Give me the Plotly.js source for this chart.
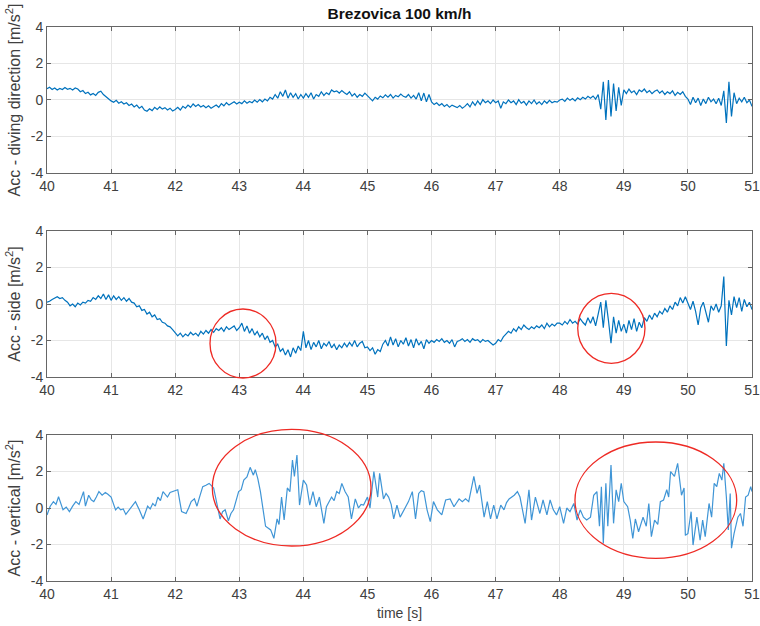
<!DOCTYPE html>
<html><head><meta charset="utf-8">
<script src="https://cdn.plot.ly/plotly-3.0.1.min.js"></script>
<style>html,body{margin:0;padding:0;background:#fff}</style>
</head><body><div id="chart" style="width:760px;height:626px"></div>
<script>
// sampling of panels 1 and 2
const tStart = 40, tStep = 0.04;

const accDiving = [
 0.62,0.70,0.58,0.66,0.55,0.63,0.57,0.68,0.59,0.64,0.55,0.66,0.60,0.45,0.52,0.35,0.42,0.28,0.36,0.25,0.42,0.48,0.30,0.18,0.05,
 -0.05,-0.12,-0.02,-0.18,-0.10,-0.22,-0.15,-0.30,-0.22,-0.38,-0.28,-0.45,-0.35,-0.55,-0.62,-0.48,-0.58,-0.40,-0.52,-0.38,-0.50,-0.42,-0.55,-0.45,-0.60,
 -0.52,-0.40,-0.55,-0.35,-0.45,-0.28,-0.40,-0.22,-0.35,-0.25,-0.38,-0.30,-0.42,-0.32,-0.45,-0.35,-0.28,-0.40,-0.20,-0.32,-0.15,-0.28,-0.18,-0.10,-0.22,
 -0.12,-0.20,-0.05,-0.18,-0.08,-0.15,0.00,-0.12,0.02,-0.10,0.05,-0.05,0.15,0.05,0.30,0.10,0.45,0.20,0.55,0.10,0.40,0.15,0.35,0.05,0.30,
 0.10,0.35,0.15,0.40,0.05,0.30,0.20,0.45,0.25,0.40,0.30,0.55,0.45,0.50,0.38,0.52,0.40,0.30,0.45,0.22,0.35,0.15,0.30,0.20,0.38,
 0.25,0.10,-0.05,0.15,0.05,0.22,0.12,0.28,0.15,0.30,0.10,0.25,0.18,0.32,0.20,0.15,0.30,0.10,0.25,0.05,0.40,-0.05,0.38,-0.10,0.30,
 -0.10,-0.25,-0.15,-0.30,-0.20,-0.35,-0.25,-0.40,-0.28,-0.35,-0.42,-0.30,-0.45,-0.35,-0.20,-0.38,-0.10,-0.30,-0.05,-0.25,0.02,-0.15,-0.05,-0.20,0.00,
 -0.15,-0.05,-0.45,-0.10,-0.20,0.00,-0.15,-0.05,-0.25,0.02,-0.18,-0.08,-0.28,-0.05,-0.20,0.00,-0.22,-0.10,-0.25,-0.05,-0.18,-0.02,-0.15,-0.08,-0.12,
 0.00,0.05,-0.08,0.10,-0.02,0.08,-0.05,0.12,0.02,0.15,0.05,0.20,0.10,0.22,0.05,0.30,-0.50,1.00,-1.10,1.10,-0.90,0.90,-0.60,0.70,-0.30,
 0.55,0.35,0.60,0.40,0.50,0.30,0.55,0.45,0.60,0.40,0.52,0.35,0.48,0.55,0.38,0.50,0.30,0.45,0.35,0.50,0.25,0.42,0.30,0.45,0.20,
 0.05,-0.25,0.15,-0.15,0.10,-0.30,0.05,-0.20,0.15,-0.10,0.05,-0.20,0.10,-0.30,0.50,-1.26,1.00,-0.90,0.40,-0.20,0.10,-0.10,0.15,-0.15,0.00,-0.35
];

const accSide = [
 0.10,0.15,0.25,0.35,0.40,0.30,0.35,0.20,0.10,-0.10,0.00,-0.15,0.05,-0.05,0.10,0.05,0.20,0.15,0.35,0.25,0.45,0.30,0.55,0.25,0.50,
 0.20,0.45,0.25,0.40,0.20,0.35,0.15,0.30,0.10,0.05,-0.15,-0.10,-0.35,-0.30,-0.55,-0.45,-0.70,-0.60,-0.85,-0.80,-1.00,-1.05,-1.20,-1.25,-1.40,
 -1.55,-1.75,-1.60,-1.80,-1.65,-1.75,-1.55,-1.70,-1.60,-1.75,-1.50,-1.65,-1.45,-1.60,-1.40,-1.55,-1.35,-1.45,-1.30,-1.50,-1.25,-1.40,-1.30,-1.20,-1.45,
 -1.30,-1.05,-1.50,-1.20,-1.60,-1.35,-1.70,-1.50,-1.80,-1.60,-1.95,-1.75,-2.10,-2.00,-2.35,-2.20,-2.60,-2.45,-2.80,-2.50,-2.90,-2.40,-2.70,-2.30,-2.55,
 -1.50,-2.40,-2.00,-2.50,-2.10,-2.35,-2.00,-2.45,-2.15,-2.30,-2.05,-2.40,-2.20,-2.50,-2.25,-2.40,-2.15,-2.35,-2.10,-2.30,-2.00,-2.35,-2.15,-2.05,-2.40,
 -2.35,-2.55,-2.40,-2.75,-2.50,-2.60,-2.20,-2.00,-2.30,-1.80,-2.25,-1.90,-2.35,-2.00,-2.20,-1.85,-2.30,-1.95,-2.40,-1.90,-2.25,-2.05,-2.45,-1.95,-2.15,
 -2.00,-2.10,-1.95,-2.05,-1.90,-2.10,-2.00,-2.15,-1.95,-2.35,-2.05,-2.00,-1.90,-2.05,-1.95,-2.10,-1.90,-2.00,-1.95,-2.10,-1.95,-2.05,-2.00,-2.15,-2.25,
 -2.15,-1.95,-2.05,-1.80,-1.65,-1.50,-1.60,-1.35,-1.50,-1.25,-1.40,-1.15,-1.30,-1.40,-1.25,-1.35,-1.20,-1.30,-1.15,-1.35,-1.05,-1.25,-1.10,-1.20,-1.05,
 -1.05,-1.15,-0.95,-1.10,-0.85,-1.05,-0.95,-1.10,-0.80,-1.00,-1.15,-0.75,-1.05,-0.70,-1.20,-0.55,0.10,-1.30,0.20,-0.90,-2.15,-0.70,-1.60,-0.90,-1.50,
 -1.10,-1.60,-0.90,-1.40,-0.80,-1.50,-1.00,-1.30,-0.75,-0.95,-0.60,-0.85,-0.50,-0.70,-0.40,-0.55,-0.25,-0.45,-0.10,-0.30,0.10,-0.10,0.35,0.05,0.40,
 0.05,-0.30,0.15,-0.40,-1.15,-0.20,0.10,-0.50,-1.00,-0.10,-0.35,0.00,-0.45,-0.10,1.50,-2.30,0.20,-0.60,0.40,-0.20,0.35,-0.40,0.25,-0.15,0.10,-0.30
];

const tVertical = [
 40.00,40.05,40.10,40.14,40.18,40.22,40.25,40.30,40.35,40.40,
 40.45,40.50,40.57,40.60,40.65,40.69,40.73,40.77,40.81,40.86,
 40.91,40.95,41.00,41.07,41.11,41.15,41.19,41.23,41.27,41.31,
 41.38,41.44,41.50,41.57,41.61,41.65,41.69,41.73,41.77,41.81,
 41.85,41.88,41.92,41.96,42.04,42.10,42.17,42.21,42.25,42.30,
 42.34,42.38,42.43,42.48,42.53,42.60,42.66,42.70,42.74,42.78,
 42.83,42.87,42.91,42.95,42.99,43.03,43.07,43.12,43.17,43.22,
 43.25,43.29,43.33,43.41,43.45,43.49,43.54,43.59,43.62,43.66,
 43.70,43.75,43.79,43.83,43.86,43.90,43.94,44.00,44.05,44.10,
 44.15,44.20,44.25,44.32,44.36,44.40,44.44,44.48,44.52,44.56,
 44.60,44.65,44.70,44.75,44.81,44.86,44.90,44.94,45.00,45.04,
 45.10,45.16,45.19,45.25,45.29,45.33,45.37,45.41,45.46,45.51,
 45.57,45.64,45.70,45.75,45.80,45.84,45.88,45.93,45.98,46.03,
 46.09,46.16,46.22,46.29,46.35,46.39,46.43,46.48,46.53,46.58,
 46.66,46.71,46.75,46.82,46.87,46.92,46.97,47.02,47.08,47.13,
 47.17,47.21,47.29,47.34,47.38,47.46,47.52,47.56,47.62,47.69,
 47.74,47.80,47.85,47.90,47.95,48.00,48.06,48.11,48.16,48.22,
 48.27,48.32,48.37,48.42,48.48,48.53,48.58,48.62,48.65,48.68,
 48.72,48.75,48.80,48.84,48.88,48.92,48.96,49.00,49.06,49.10,
 49.14,49.18,49.23,49.30,49.35,49.39,49.43,49.48,49.53,49.57,
 49.62,49.67,49.70,49.73,49.79,49.84,49.87,49.90,49.94,49.96,
 50.00,50.05,50.08,50.14,50.19,50.23,50.27,50.33,50.37,50.41,
 50.45,50.49,50.53,50.56,50.60,50.63,50.66,50.68,50.72,50.78,
 50.82,50.86,50.90,50.94,50.98,51.00
];
const accVertical = [
 -0.38,0.10,0.35,0.20,0.62,0.25,-0.10,0.05,-0.20,0.10,
 0.35,0.20,0.90,0.10,0.70,0.45,0.35,0.60,0.90,0.70,
 0.85,0.75,0.60,-0.10,0.05,-0.10,-0.05,-0.35,-0.15,0.00,
 0.35,-0.10,-0.60,0.10,-0.05,0.25,0.10,0.60,0.40,0.90,
 0.70,0.60,0.85,0.90,1.00,-0.20,-0.30,0.00,0.35,0.50,
 0.10,0.60,1.17,1.25,1.35,1.10,0.10,-0.60,-0.20,-0.10,
 -0.70,-0.30,-0.10,0.40,0.90,1.00,1.53,1.70,2.23,1.80,
 2.10,1.60,0.90,-1.00,-1.10,-1.20,-1.66,-0.60,-0.90,0.60,
 -0.66,1.10,0.90,2.63,1.73,2.90,0.16,1.53,1.26,0.16,
 0.90,0.07,0.60,-0.84,0.07,0.30,0.60,0.40,0.90,0.80,
 1.35,0.90,0.60,-0.60,0.50,0.00,0.20,0.16,0.60,0.00,
 2.00,0.60,1.90,0.50,0.80,0.60,0.20,-0.60,0.16,-0.50,
 -0.10,0.35,0.90,-0.60,0.80,0.95,0.90,-0.10,-0.75,0.35,
 -0.10,-0.38,0.44,0.50,0.07,0.30,0.50,0.35,0.50,0.35,
 1.73,0.80,1.26,-0.50,0.35,-0.60,0.16,-0.60,0.16,-0.10,
 0.30,0.50,0.70,0.90,0.60,-0.84,1.00,-0.66,0.60,-0.30,
 0.44,-0.38,0.44,-0.10,-0.38,0.07,-0.84,0.00,-0.20,0.25,
 -0.66,-0.10,-0.50,-0.66,-0.50,0.70,0.90,-1.00,1.17,-1.94,
 1.35,-1.00,2.36,-0.84,1.00,0.35,1.35,0.35,0.07,-0.66,
 -1.66,-0.60,-1.30,-0.50,-1.00,0.25,-1.57,-0.66,-0.90,0.35,
 0.44,1.00,0.60,2.00,1.73,2.45,1.44,0.70,1.10,-1.50,
 -1.40,-0.20,-2.03,-0.50,-1.76,-0.66,-1.57,0.25,-0.50,1.35,
 1.17,1.90,1.53,2.45,0.60,-1.20,0.80,-2.20,-1.40,-0.50,
 -0.30,-1.00,0.60,0.70,1.17,0.90
];

const xTicks = [40,41,42,43,44,45,46,47,48,49,50,51];
const yTicks = [-4,-2,0,2,4];
const yTitles = ['Acc - diving direction [m/s<sup>2</sup>]','Acc - side [m/s<sup>2</sup>]','Acc - vertical [m/s<sup>2</sup>]'];
const chartTitle = '<b>Brezovica 100 km/h</b>';
const xTitle = 'time [s]';

const tGrid = accDiving.map((_, i) => +(tStart + i * tStep).toFixed(2));

const FONT = 'Liberation Sans, Arial, Helvetica, sans-serif';
const traces = [
  {x: tGrid, y: accDiving, xaxis: 'x', yaxis: 'y', type: 'scatter', mode: 'lines', line: {color: '#0072BD', width: 1.2}},
  {x: tGrid, y: accSide, xaxis: 'x2', yaxis: 'y2', type: 'scatter', mode: 'lines', line: {color: '#0072BD', width: 1.2}},
  {x: tVertical, y: accVertical, xaxis: 'x3', yaxis: 'y3', type: 'scatter', mode: 'lines', line: {color: '#3f95d6', width: 1.2}}
];

function xAx(anchor, withTitle) {
  const a = {range: [40, 51], tickvals: xTicks, ticktext: xTicks.map(String), anchor: anchor,
    showgrid: true, gridcolor: '#e6e6e6', gridwidth: 1, zeroline: false,
    showline: true, linecolor: '#666', linewidth: 1, mirror: 'allticks',
    ticks: 'inside', ticklen: 4, tickcolor: '#666', tickfont: {size: 14, color: '#404040', family: FONT}};
  if (withTitle) a.title = {text: xTitle, font: {size: 14, color: '#404040', family: FONT}, standoff: 7};
  return a;
}
function yAx(domain, anchor, title) {
  return {range: [-4, 4], tickvals: yTicks, ticktext: yTicks.map(String), domain: domain, anchor: anchor,
    showgrid: true, gridcolor: '#e6e6e6', gridwidth: 1, zeroline: false,
    showline: true, linecolor: '#666', linewidth: 1, mirror: 'allticks',
    ticks: 'inside', ticklen: 4, tickcolor: '#666', tickfont: {size: 14, color: '#404040', family: FONT},
    title: {text: title, font: {size: 16, color: '#404040', family: FONT}, standoff: 6}};
}

function ell(x0, x1, y0, y1) {
  return {type: 'circle', xref: 'paper', yref: 'paper', x0: x0, x1: x1, y0: y0, y1: y1,
    line: {color: '#ee2a24', width: 1.3}, fillcolor: 'rgba(0,0,0,0)'};
}

const layout = {
  width: 760, height: 626, showlegend: false,
  paper_bgcolor: '#fff', plot_bgcolor: '#fff',
  margin: {l: 47, r: 8, t: 27, b: 45},
  font: {family: FONT, color: '#404040'},
  title: {text: chartTitle, font: {size: 15.5, color: '#111', family: FONT}, x: 0.5, xref: 'paper', y: 0.979, yref: 'container', yanchor: 'middle'},
  xaxis: xAx('y', false), yaxis: yAx([0.7365, 1], 'x', yTitles[0]),
  xaxis2: xAx('y2', false), yaxis2: yAx([0.3682, 0.6318], 'x2', yTitles[1]),
  xaxis3: xAx('y3', true), yaxis3: yAx([0, 0.2635], 'x3', yTitles[2]),
  shapes: [
    ell(0.2312, 0.3248, 0.3664, 0.4910),
    ell(0.7528, 0.8482, 0.3930, 0.5193),
    ell(0.2345, 0.4596, 0.0632, 0.2738),
    ell(0.7489, 0.9783, 0.0410, 0.2509)
  ]
};

Plotly.newPlot('chart', traces, layout, {displayModeBar: false, staticPlot: true});
</script></body></html>
